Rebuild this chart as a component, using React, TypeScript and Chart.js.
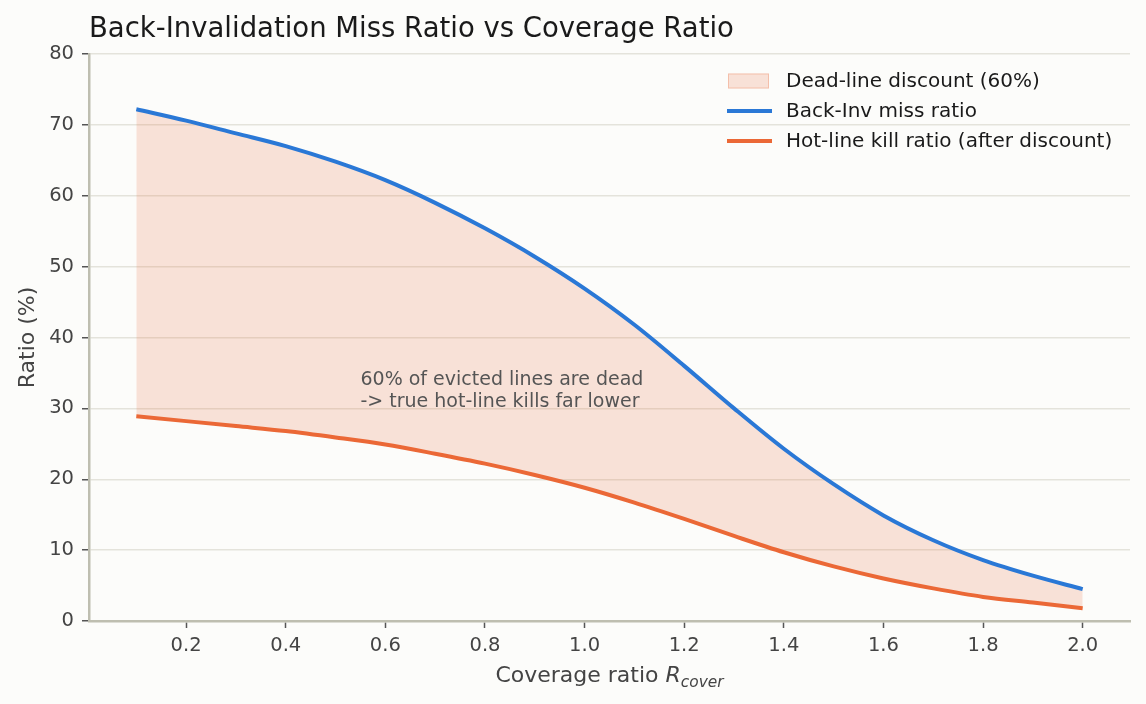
import { useEffect, useRef } from 'react';
import { Chart, registerables } from 'chart.js';

Chart.register(...registerables);

// ---- data ----
const coverageRatio = [0.1, 0.2, 0.3, 0.4, 0.5, 0.6, 0.7, 0.8, 0.9, 1.0, 1.1, 1.2, 1.3, 1.4, 1.5, 1.6, 1.7, 1.8, 1.9, 2.0];
const backInvMissRatio = [72.2, 70.6, 68.8, 67.0, 64.8, 62.2, 59.0, 55.4, 51.4, 46.9, 41.8, 36.0, 30.0, 24.3, 19.3, 14.9, 11.4, 8.6, 6.4, 4.5];
const hotLineKillRatio = [28.9, 28.2, 27.5, 26.8, 25.9, 24.9, 23.6, 22.2, 20.6, 18.8, 16.7, 14.4, 12.0, 9.7, 7.7, 6.0, 4.6, 3.4, 2.6, 1.8];
const xTickValues = [0.2, 0.4, 0.6, 0.8, 1.0, 1.2, 1.4, 1.6, 1.8, 2.0];
const seriesLabels = ['Dead-line discount (60%)', 'Back-Inv miss ratio', 'Hot-line kill ratio (after discount)'];
const titleText = 'Back-Invalidation Miss Ratio vs Coverage Ratio';
const yAxisTitle = 'Ratio (%)';
const annotationLines = ['60% of evicted lines are dead', '-> true hot-line kills far lower'];
const annotationAt = { x: 0.55, y: 34.0 };

// ---- style ----
const BG = '#fcfcfa';
const BLUE = '#2a78d6';
const ORANGE = '#eb6836';
const FILL = 'rgba(235,104,54,0.18)';
const FILL_EDGE = 'rgba(235,104,54,0.28)';
const FONT = '"DejaVu Sans", sans-serif';
const SPINE = '#bebeb0';
const GRID = '#e4e3db';
const TICK = '#555555';
const TEXT = '#444444';

const toPoints = (ys: number[]) => coverageRatio.map((x, i) => ({ x, y: ys[i] }));

const decorPlugin = {
  id: 'decor',
  beforeDraw(chart: any) {
    const ctx = chart.ctx;
    ctx.save();
    ctx.fillStyle = BG;
    ctx.fillRect(0, 0, chart.width, chart.height);
    ctx.restore();
  },
  afterDraw(chart: any) {
    const ctx = chart.ctx;
    const area = chart.chartArea;
    const xs = chart.scales.x;
    const ys = chart.scales.y;
    ctx.save();

    // title
    ctx.fillStyle = '#1a1a1a';
    ctx.font = `27.5px ${FONT}`;
    ctx.textAlign = 'left';
    ctx.textBaseline = 'alphabetic';
    ctx.fillText(titleText, area.left, 37);

    // x axis title with italic subscript
    const main = 'Coverage ratio ';
    const fMain = `22px ${FONT}`;
    const fIt = `italic 22px ${FONT}`;
    const fSub = `italic 15.4px ${FONT}`;
    ctx.font = fMain;
    const w1 = ctx.measureText(main).width;
    ctx.font = fIt;
    const w2 = ctx.measureText('R').width;
    ctx.font = fSub;
    const w3 = ctx.measureText('cover').width;
    const total = w1 + w2 + w3;
    let cx = (area.left + area.right) / 2 - total / 2;
    const base = 682;
    ctx.fillStyle = TEXT;
    ctx.font = fMain;
    ctx.fillText(main, cx, base);
    cx += w1;
    ctx.font = fIt;
    ctx.fillText('R', cx, base);
    cx += w2;
    ctx.font = fSub;
    ctx.fillText('cover', cx, base + 4.5);

    // y axis title
    ctx.save();
    ctx.translate(34, (area.top + area.bottom) / 2);
    ctx.rotate(-Math.PI / 2);
    ctx.font = fMain;
    ctx.textAlign = 'center';
    ctx.fillText(yAxisTitle, 0, 0);
    ctx.restore();

    // annotation
    ctx.font = `19px ${FONT}`;
    ctx.fillStyle = '#555555';
    ctx.textAlign = 'left';
    ctx.textBaseline = 'middle';
    const ax = xs.getPixelForValue(annotationAt.x);
    const ay = ys.getPixelForValue(annotationAt.y);
    annotationLines.forEach((l, i) => ctx.fillText(l, ax, ay + i * 22));

    // legend
    const lx = 728;
    const ly = 81;
    const rowH = 30;
    ctx.fillStyle = FILL;
    ctx.fillRect(lx, ly - 7.5, 41, 15);
    ctx.strokeStyle = FILL_EDGE;
    ctx.lineWidth = 1;
    ctx.strokeRect(lx + 0.5, ly - 7, 40, 14);
    ctx.lineWidth = 4;
    ctx.lineCap = 'butt';
    ctx.strokeStyle = BLUE;
    ctx.beginPath();
    ctx.moveTo(lx - 1, ly + rowH);
    ctx.lineTo(lx + 44, ly + rowH);
    ctx.stroke();
    ctx.strokeStyle = ORANGE;
    ctx.beginPath();
    ctx.moveTo(lx - 1, ly + 2 * rowH);
    ctx.lineTo(lx + 44, ly + 2 * rowH);
    ctx.stroke();
    ctx.fillStyle = '#1a1a1a';
    ctx.font = `20px ${FONT}`;
    ctx.textBaseline = 'middle';
    seriesLabels.forEach((l, i) => ctx.fillText(l, 786, ly + i * rowH + 1));

    ctx.restore();
  },
};

export default function App() {
  const ref = useRef<HTMLCanvasElement | null>(null);

  useEffect(() => {
    document.body.style.margin = '0';
    document.body.style.background = BG;
    if (!ref.current) return;
    const chart = new Chart(ref.current, {
      type: 'line',
      data: {
        datasets: [
          {
            label: seriesLabels[0],
            data: toPoints(backInvMissRatio),
            borderWidth: 0,
            borderColor: 'rgba(0,0,0,0)',
            backgroundColor: FILL,
            pointRadius: 0,
            cubicInterpolationMode: 'monotone',
            fill: 2,
            order: 10,
          },
          {
            label: seriesLabels[1],
            data: toPoints(backInvMissRatio),
            borderColor: BLUE,
            borderWidth: 4,
            pointRadius: 0,
            cubicInterpolationMode: 'monotone',
            fill: false,
            order: 1,
          },
          {
            label: seriesLabels[2],
            data: toPoints(hotLineKillRatio),
            borderColor: ORANGE,
            borderWidth: 4,
            pointRadius: 0,
            cubicInterpolationMode: 'monotone',
            fill: false,
            order: 2,
          },
        ],
      },
      options: {
        responsive: false,
        animation: false,
        events: [],
        layout: { padding: { top: 54, right: 16, left: 0, bottom: 0 } },
        plugins: {
          legend: { display: false },
          title: { display: false },
          tooltip: { enabled: false },
        },
        scales: {
          x: {
            type: 'linear',
            min: 0.005,
            max: 2.095,
            afterBuildTicks: (scale: any) => {
              scale.ticks = xTickValues.map((v) => ({ value: v }));
            },
            afterFit: (scale: any) => {
              scale.height = 83;
            },
            ticks: {
              callback: (v: any) => Number(v).toFixed(1),
              font: { family: FONT, size: 19.5 },
              color: TEXT,
              padding: 6,
              maxRotation: 0,
              autoSkip: false,
            },
            grid: {
              drawOnChartArea: false,
              drawTicks: true,
              tickLength: 7,
              tickColor: TICK,
              tickWidth: 1.5,
            },
            border: { color: SPINE, width: 2.5 },
          },
          y: {
            type: 'linear',
            min: 0,
            max: 80,
            afterFit: (scale: any) => {
              scale.width = 89;
            },
            ticks: {
              stepSize: 10,
              font: { family: FONT, size: 19.5 },
              color: TEXT,
              padding: 8,
            },
            grid: {
              color: GRID,
              lineWidth: 1.5,
              drawTicks: true,
              tickLength: 7,
              tickColor: TICK,
              tickWidth: 1.5,
            },
            border: { color: SPINE, width: 2.5 },
          },
        },
      },
      plugins: [decorPlugin],
    } as any);
    return () => chart.destroy();
  }, []);

  return (
    <div style={{ width: 1146, height: 704, background: BG }}>
      <canvas ref={ref} width={1146} height={704} style={{ width: 1146, height: 704, display: 'block' }} />
    </div>
  );
}
